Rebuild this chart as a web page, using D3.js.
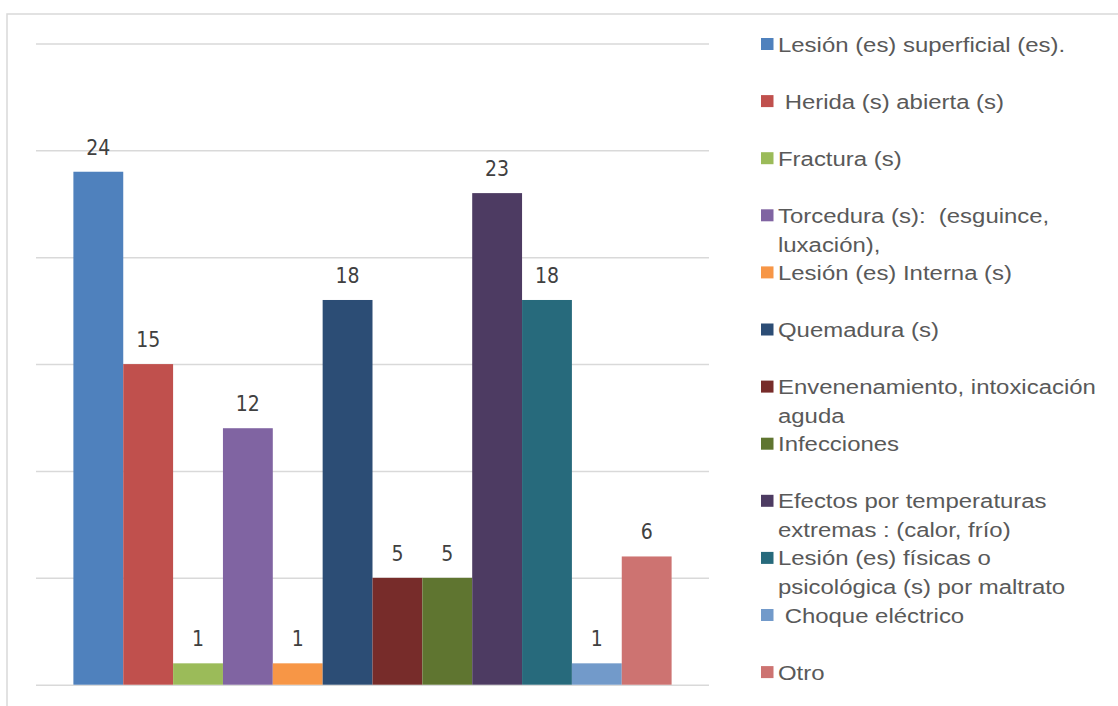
<!DOCTYPE html>
<html>
<head>
<meta charset="utf-8">
<script src="https://cdn.jsdelivr.net/npm/d3@7"></script>
<style>
  html, body { margin: 0; padding: 0; background: #fff; overflow: hidden; }
  svg { display: block; }
  .legend text { white-space: pre; }
</style>
</head>
<body>
<svg id="chart" width="1118" height="706"></svg>
<script>
// Injury types and number of cases
const categories = [
  "Lesión (es) superficial (es).",
  " Herida (s) abierta (s)",
  "Fractura (s)",
  "Torcedura (s):  (esguince, luxación),",
  "Lesión (es) Interna (s)",
  "Quemadura (s)",
  "Envenenamiento, intoxicación aguda",
  "Infecciones",
  "Efectos por temperaturas extremas : (calor, frío)",
  "Lesión (es) físicas o psicológica (s) por maltrato",
  " Choque eléctrico",
  "Otro"
];
const values = [24, 15, 1, 12, 1, 18, 5, 5, 23, 18, 1, 6];
const colors = [
  "#4F81BD", "#C0504D", "#9BBB59", "#8064A2", "#F79646", "#2C4D75",
  "#772C2A", "#5F7530", "#4D3B62", "#276A7C", "#729ACA", "#CD7371"
];
const gridTicks = [0, 5, 10, 15, 20, 25, 30];

const svg = d3.select("#chart");

// outer chart frame (continues past the right and bottom edges)
svg.append("rect")
  .attr("x", 7).attr("y", 14)
  .attr("width", 1200).attr("height", 800)
  .attr("fill", "none")
  .attr("stroke", "#d9d9d9")
  .attr("stroke-width", 1.5);

const plot = { left: 36, right: 709, top: 43.5, bottom: 684.7 };

const x = d3.scaleBand()
  .domain(categories)
  .range([plot.left, plot.right])
  .paddingInner(0)
  .paddingOuter(0.75);

const y = d3.scaleLinear()
  .domain([0, 30])
  .range([plot.bottom, plot.top]);

// horizontal gridlines, no tick labels
const grid = svg.append("g")
  .attr("transform", `translate(${plot.left},0)`)
  .call(d3.axisLeft(y).tickValues(gridTicks).tickSize(-(plot.right - plot.left)).tickFormat(""));
grid.select(".domain").remove();
grid.selectAll(".tick line").attr("stroke", "#d9d9d9").attr("stroke-width", 1.5);

// bars
svg.append("g")
  .selectAll("rect")
  .data(values)
  .join("rect")
  .attr("x", (d, i) => x(categories[i]))
  .attr("y", d => y(d))
  .attr("width", x.bandwidth())
  .attr("height", d => y(0) - y(d))
  .attr("fill", (d, i) => colors[i]);

// value labels above bars
svg.append("g")
  .selectAll("text")
  .data(values)
  .join("text")
  .attr("x", (d, i) => x(categories[i]) + x.bandwidth() / 2)
  .attr("y", d => y(d) - 17)
  .attr("text-anchor", "middle")
  .attr("font-family", "'DejaVu Sans Condensed', 'DejaVu Sans', sans-serif")
  .attr("font-size", 21)
  .attr("fill", "#404040")
  .text(d => d);

// legend on the right, one slot per category, long names wrapped
const legend = svg.append("g").attr("class", "legend");
const slotTop = 51.5, slotStep = 57.1, lineStep = 28.8;
const stretch = 1.14, maxWidth = 322;

categories.forEach((name, i) => {
  const base = slotTop + i * slotStep;
  legend.append("rect")
    .attr("x", 761).attr("y", base - 13.5)
    .attr("width", 12.5).attr("height", 12)
    .attr("fill", colors[i]);

  const g = legend.append("g")
    .attr("transform", `translate(778,${base}) scale(${stretch},1)`);
  const t = g.append("text")
    .attr("font-family", "'Liberation Sans', Arial, sans-serif")
    .attr("font-size", 21)
    .attr("fill", "#595959");

  // greedy word wrap
  const words = name.split(" ");
  let line = [];
  let lineNo = 0;
  let tspan = t.append("tspan").attr("x", 0).attr("y", 0);
  words.forEach(w => {
    line.push(w);
    tspan.text(line.join(" "));
    if (tspan.node().getComputedTextLength() * stretch > maxWidth && line.length > 1) {
      line.pop();
      tspan.text(line.join(" "));
      line = [w];
      lineNo++;
      tspan = t.append("tspan").attr("x", 0).attr("y", lineNo * lineStep).text(w);
    }
  });
});
</script>
</body>
</html>
